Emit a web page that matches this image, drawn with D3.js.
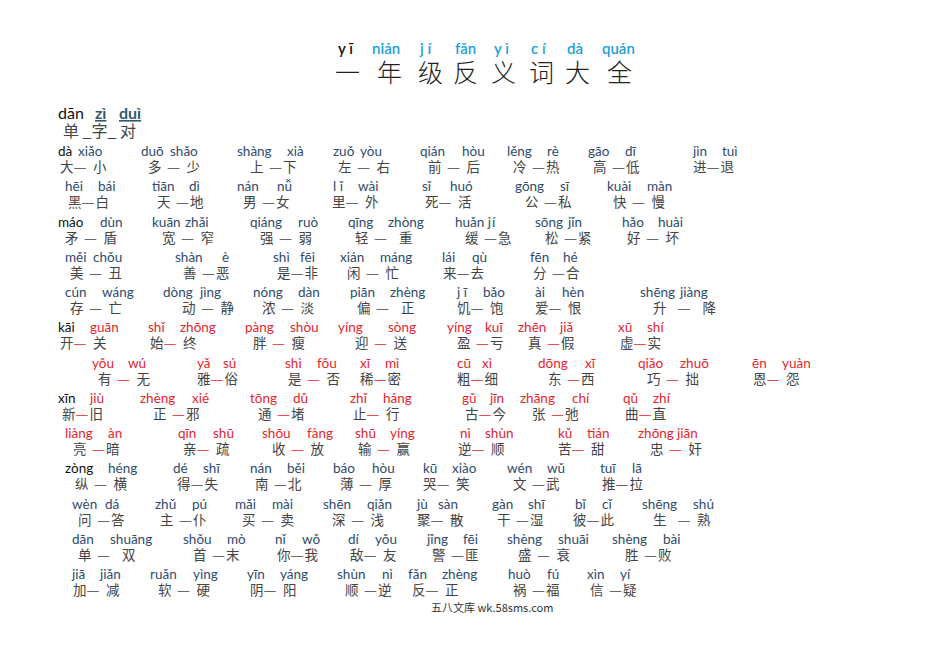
<!DOCTYPE html>
<html>
<head>
<meta charset="utf-8">
<script src="https://cdn.jsdelivr.net/npm/d3@7"></script>
<style>
  body { margin: 0; background: #fff; }
  text { white-space: pre; }
</style>
</head>
<body>
<svg id="sheet"></svg>
<script>
var w = 950;
var h = 672;

// title
var titlePinyin = ["y ī", "nián", "j í", "fǎn", "y ì", "c í", "dà", "quán"];
var titlePinyinCol = [338, 372, 420, 455, 494, 531, 567, 602];
var titleChars = ["一", "年", "级", "反", "义", "词", "大", "全"];
var titleCharCol = [335, 377, 418, 453, 491, 529, 565, 607];

// rows: pinyin pairs, where they sit, the hanzi pair and where it sits
var pinyin = [
    ["dà xiǎo", "duō shǎo", "shàng xià", "zuǒ yòu", "qián hòu", "lěng rè", "gāo dī", "jìn tuì"],
    ["hēi bái", "tiān dì", "nán nǚ", "l ǐ wài", "sǐ huó", "gōng sī", "kuài màn"],
    ["máo dùn", "kuān zhǎi", "qiáng ruò", "qīng zhòng", "huǎn j í", "sōng jǐn", "hǎo huài"],
    ["měi chǒu", "shàn è", "shì fēi", "xián máng", "lái qù", "fēn hé"],
    ["cún wáng", "dòng jìng", "nóng dàn", "piān zhèng", "j ī bǎo", "ài hèn", "shēng jiàng"],
    ["kāi guān", "shǐ zhōng", "pàng shòu", "yíng sòng", "yíng kuī", "zhēn jiǎ", "xū shí"],
    ["yǒu wú", "yǎ sú", "shì fǒu", "xī mì", "cū xì", "dōng xī", "qiǎo zhuō", "ēn yuàn"],
    ["xīn jiù", "zhèng xié", "tōng dǔ", "zhǐ háng", "gǔ jīn", "zhāng chí", "qǔ zhí"],
    ["liàng àn", "qīn shū", "shōu fàng", "shū yíng", "nì shùn", "kǔ tián", "zhōng jiān"],
    ["zòng héng", "dé shī", "nán běi", "báo hòu", "kū xiào", "wén wǔ", "tuī lā"],
    ["wèn dá", "zhǔ pú", "mǎi mài", "shēn qiǎn", "jù sàn", "gàn shī", "bǐ cǐ", "shēng shú"],
    ["dān shuāng", "shǒu mò", "nǐ wǒ", "dí yǒu", "jǐng fēi", "shèng shuāi", "shèng bài"],
    ["jiā jiǎn", "ruǎn yìng", "yīn yáng", "shùn nì", "fǎn zhèng", "huò fú", "xìn yí"]
];
var pinyinCol1 = [
    [58, 141, 237, 333, 420, 507, 588, 693],
    [65, 152, 237, 333, 422, 515, 607],
    [58, 152, 250, 348, 455, 535, 622],
    [65, 175, 273, 340, 442, 530],
    [65, 163, 253, 350, 457, 535, 640],
    [58, 148, 245, 338, 447, 518, 618],
    [92, 197, 285, 360, 457, 538, 638, 752],
    [58, 140, 250, 350, 462, 520, 623],
    [65, 178, 262, 355, 460, 558, 638],
    [65, 173, 250, 333, 423, 507, 600],
    [72, 155, 235, 323, 417, 492, 575, 642],
    [72, 183, 275, 348, 427, 507, 612],
    [72, 150, 247, 337, 408, 508, 587]
];
var pinyinCol2 = [
    [78, 170, 287, 360, 462, 547, 625, 722],
    [98, 189, 277, 358, 450, 560, 647],
    [100, 185, 298, 388, 492, 568, 658],
    [93, 222, 300, 380, 472, 563],
    [102, 200, 298, 390, 483, 562, 680],
    [90, 180, 290, 388, 485, 560, 647],
    [128, 223, 317, 385, 482, 585, 680, 782],
    [90, 192, 293, 383, 490, 572, 653],
    [108, 213, 307, 390, 485, 587, 677],
    [108, 203, 287, 372, 452, 547, 632],
    [105, 192, 272, 367, 438, 528, 602, 693],
    [110, 227, 302, 375, 463, 558, 663],
    [100, 193, 280, 382, 442, 547, 620]
];
var hanzi = [
    ["大— 小", "多 — 少", "上 —下", "左 — 右", "前 — 后", "冷 —热", "高 —低", "进—退"],
    ["黑—白", "天 —地", "男 —女", "里— 外", "死— 活", "公 —私", "快 — 慢"],
    ["矛 — 盾", "宽 — 窄", "强 — 弱", "轻 —  重", "缓 —急", "松 —紧", "好 — 坏"],
    ["美 — 丑", "善 —恶", "是—非", "闲 — 忙", "来—去", "分 —合"],
    ["存 — 亡", "动 — 静", "浓 — 淡", "偏 —  正", "饥— 饱", "爱— 恨", "升  —  降"],
    ["开— 关", "始— 终", "胖 — 瘦", "迎 — 送", "盈 —亏", "真 —假", "虚—实"],
    ["有 — 无", "雅—俗", "是 — 否", "稀—密", "粗—细", "东 —西", "巧 — 拙", "恩— 怨"],
    ["新—旧", "正 —邪", "通 —堵", "止— 行", "古—今", "张 —弛", "曲—直"],
    ["亮 —暗", "亲— 疏", "收 — 放", "输 — 赢", "逆— 顺", "苦— 甜", "忠 — 奸"],
    ["纵 — 横", "得—失", "南 —北", "薄 — 厚", "哭— 笑", "文 —武", "推—拉"],
    ["问 —答", "主 —仆", "买 — 卖", "深 — 浅", "聚— 散", "干 —湿", "彼—此", "生  — 熟"],
    ["单 —  双", "首 —末", "你—我", "敌— 友", "警 —匪", "盛 — 衰", "胜 —败"],
    ["加— 减", "软 — 硬", "阴— 阳", "顺 —逆", "反— 正", "祸 —福", "信 —疑"]
];
var hanziCol = [
    [60, 148, 250, 338, 428, 513, 593, 693],
    [68, 157, 243, 332, 425, 525, 613],
    [65, 162, 260, 355, 465, 545, 627],
    [70, 183, 277, 347, 443, 533],
    [70, 182, 262, 357, 457, 535, 653],
    [60, 150, 253, 355, 457, 528, 620],
    [98, 197, 288, 360, 457, 548, 647, 753],
    [62, 153, 258, 353, 465, 532, 625],
    [73, 183, 272, 358, 458, 558, 650],
    [75, 177, 255, 340, 423, 513, 602],
    [78, 160, 242, 332, 417, 497, 573, 653],
    [78, 193, 277, 350, 432, 518, 625],
    [73, 158, 250, 345, 412, 513, 590]
];
var rowTone = ["blue", "blue", "blue", "blue", "blue", "red", "red", "red", "red", "blue", "blue", "blue", "blue"];
var leadBlack = [true, false, true, false, false, true, false, true, false, true, false, false, false];

var colors = { blue: "#2f4b6e", red: "#e3262e", black: "#111", hz: "#444", title: "#1ca0dc", teal: "#2e5b6b" };

var hzSize = 13.5;   // hanzi font size
var gap = 5.5;       // width of one blank in a hanzi pair
var dashLen = 13;

var svg = d3.select("#sheet")
    .attr("width", w)
    .attr("height", h);

svg.append("rect").attr("width", w).attr("height", h).attr("fill", "#fff");

var x = d3.scaleLinear().domain([0, w]).range([0, w]);
var rowY = d3.scaleLinear().domain([0, 12]).range([156, 579]);

// title
svg.selectAll("text.tpy")
    .data(titlePinyin)
    .enter()
    .append("text")
    .attr("class", "tpy")
    .attr("x", function (d, i) { return x(titlePinyinCol[i]); })
    .attr("y", 54)
    .style("font-family", "Lato, 'Noto Sans', sans-serif")
    .style("font-size", "15px")
    .style("font-weight", "600")
    .style("fill", function (d, i) { return i == 0 ? colors.black : colors.title; })
    .text(function (d) { return d; });

svg.selectAll("text.tch")
    .data(titleChars)
    .enter()
    .append("text")
    .attr("class", "tch")
    .attr("x", function (d, i) { return x(titleCharCol[i]); })
    .attr("y", 82)
    .style("font-family", "'Noto Sans CJK SC'")
    .style("font-size", "25px")
    .style("font-weight", "300")
    .style("fill", "#222")
    .text(function (d) { return d; });

// 单字对 header
var headWords = ["dān", "zì", "duì"];
var headCol = [58, 95, 119];
svg.selectAll("text.head")
    .data(headWords)
    .enter()
    .append("text")
    .attr("class", "head")
    .attr("x", function (d, i) { return x(headCol[i]); })
    .attr("y", 119)
    .style("font-family", "Lato, 'Noto Sans', sans-serif")
    .style("font-size", "16px")
    .style("font-weight", function (d, i) { return i == 0 ? "400" : "700"; })
    .style("text-decoration", function (d, i) { return i == 0 ? "none" : "underline"; })
    .style("fill", function (d, i) { return i == 0 ? colors.black : colors.teal; })
    .text(function (d) { return d; });

svg.append("text")
    .attr("x", x(63))
    .attr("y", 137)
    .style("font-family", "'Noto Sans CJK SC'")
    .style("font-size", "16px")
    .style("fill", colors.hz)
    .text("单 _字_ 对");

// rows
pinyin.forEach(function (row, r) {
    var g = svg.append("g");
    var tone = colors[rowTone[r]];

    row.forEach(function (pair, i) {
        var syl = pair.split(" ");
        var second = syl.pop();
        var first = syl.join(" ");
        g.append("text")
            .attr("x", x(pinyinCol1[r][i]))
            .attr("y", rowY(r))
            .style("font-family", "Lato, 'Noto Sans', sans-serif")
            .style("font-size", "13.5px")
            .style("fill", (i == 0 && leadBlack[r]) ? colors.black : tone)
            .text(first);
        g.append("text")
            .attr("x", x(pinyinCol2[r][i]))
            .attr("y", rowY(r))
            .style("font-family", "Lato, 'Noto Sans', sans-serif")
            .style("font-size", "13.5px")
            .style("fill", tone)
            .text(second);
    });

    hanzi[r].forEach(function (word, i) {
        var parts = word.split("—");
        var left = parts[0].trim(), right = parts[1].trim();
        var before = parts[0].length - left.length;
        var after = parts[1].length - right.length;
        var x0 = x(hanziCol[r][i]);
        var dx = x0 + hzSize + before * gap;
        var rx = dx + dashLen + after * gap + 1;
        var y = rowY(r) + 16;

        g.append("text")
            .attr("x", x0).attr("y", y)
            .style("font-family", "'Noto Sans CJK SC'")
            .style("font-size", hzSize + "px")
            .style("fill", colors.hz)
            .text(left);
        g.append("text")
            .attr("x", dx).attr("y", y)
            .attr("textLength", dashLen)
            .attr("lengthAdjust", "spacingAndGlyphs")
            .style("font-family", "'Noto Sans CJK SC'")
            .style("font-size", hzSize + "px")
            .style("fill", rowTone[r] == "red" ? colors.red : colors.hz)
            .text("—");
        g.append("text")
            .attr("x", rx).attr("y", y)
            .style("font-family", "'Noto Sans CJK SC'")
            .style("font-size", hzSize + "px")
            .style("fill", colors.hz)
            .text(right);
    });
});

// footer
svg.append("text")
    .attr("x", x(431))
    .attr("y", 612)
    .style("font-family", "'Noto Sans CJK SC'")
    .style("font-size", "11px")
    .style("fill", "#333")
    .text("五八文库 wk.58sms.com");
</script>
</body>
</html>
